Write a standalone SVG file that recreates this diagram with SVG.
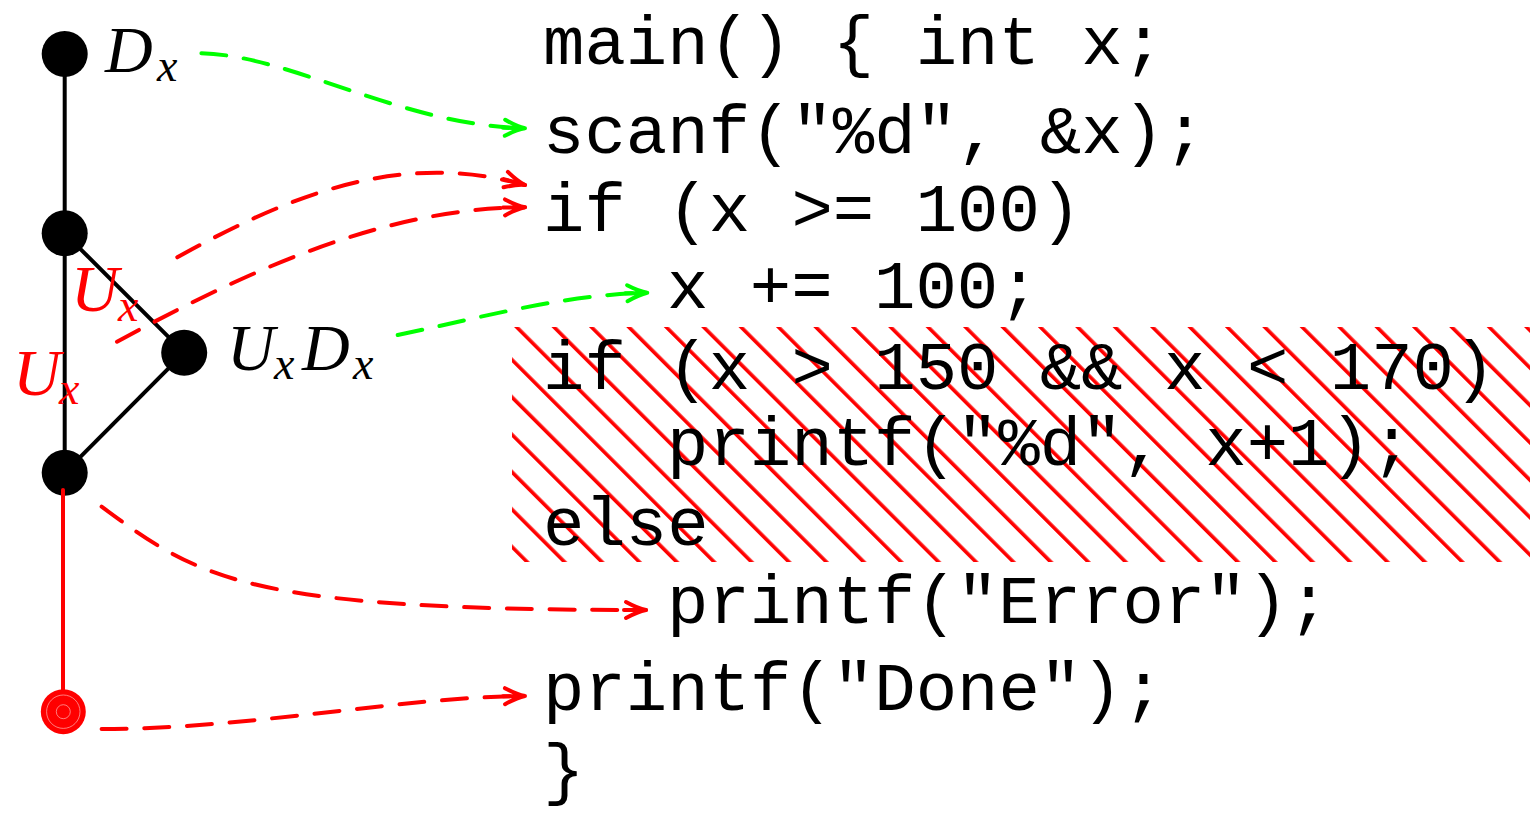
<svg xmlns="http://www.w3.org/2000/svg" width="1530" height="818" viewBox="0 0 1530 818">
<style>
.code{font-family:"Liberation Mono","DejaVu Sans Mono",monospace;font-size:69px;fill:#000}
.mi{font-family:"Liberation Serif","DejaVu Serif",serif;font-style:italic;font-size:66px}
.sub{font-family:"Liberation Serif","DejaVu Serif",serif;font-style:italic;font-size:46px}
.edge{stroke:#000;stroke-width:4;fill:none}
.dr{stroke:#ff0000;stroke-width:4;fill:none;stroke-dasharray:25 17.7;stroke-linecap:round}
.dg{stroke:#00ff00;stroke-width:4;fill:none;stroke-dasharray:25 17.7;stroke-linecap:round}
</style>
<defs>
<pattern id="hatch" patternUnits="userSpaceOnUse" width="26.45" height="26.45" patternTransform="rotate(-45)">
<rect x="0" y="0" width="3.6" height="26.45" fill="#ff0000"/>
</pattern>
<marker id="ar" markerUnits="userSpaceOnUse" markerWidth="30" markerHeight="24" viewBox="-24 -12 30 24" refX="0" refY="0" orient="auto" overflow="visible">
<path d="M -22 0 L 0 0 M -20 -8 Q -8 -1.5 0 0 Q -8 1.5 -20 8" stroke="#ff0000" stroke-width="4" fill="none" stroke-linecap="round"/>
</marker>
<marker id="ag" markerUnits="userSpaceOnUse" markerWidth="30" markerHeight="24" viewBox="-24 -12 30 24" refX="0" refY="0" orient="auto" overflow="visible">
<path d="M -22 0 L 0 0 M -20 -8 Q -8 -1.5 0 0 Q -8 1.5 -20 8" stroke="#00ff00" stroke-width="4" fill="none" stroke-linecap="round"/>
</marker>
</defs>
<rect width="1530" height="818" fill="#fff"/>
<rect id="hatched" x="512" y="327" width="1018" height="235" fill="url(#hatch)"/>
<g id="code">
<text class="code" x="543" y="64">main() { int x;</text>
<text class="code" x="543" y="153">scanf("%d", &amp;x);</text>
<text class="code" x="543" y="231">if (x &gt;= 100)</text>
<text class="code" x="667" y="308">x += 100;</text>
<text class="code" x="543" y="389">if (x &gt; 150 &amp;&amp; x &lt; 170)</text>
<text class="code" x="667" y="465">printf("%d", x+1);</text>
<text class="code" x="543" y="545">else</text>
<text class="code" x="667" y="623">printf("Error");</text>
<text class="code" x="543" y="710">printf("Done");</text>
<text class="code" x="543" y="792">}</text>
</g>
<g id="edges">
<line class="edge" x1="64.7" y1="54" x2="64.7" y2="472.7"/>
<line class="edge" x1="64.7" y1="233.3" x2="184.2" y2="352.7"/>
<line class="edge" x1="184.2" y1="352.7" x2="64.7" y2="472.7"/>
</g>
<g id="node-d"><circle cx="64.7" cy="54" r="23" fill="#000"/>
<text class="mi" x="105" y="72">D</text><text class="sub" x="157" y="81">x</text></g>
<g id="node-u"><circle cx="64.7" cy="233.3" r="23" fill="#000"/></g>
<g id="node-ud"><circle cx="184.2" cy="352.7" r="23" fill="#000"/>
<text class="mi" x="227" y="370">U</text><text class="sub" x="274" y="379">x</text>
<text class="mi" x="302" y="370">D</text><text class="sub" x="353" y="379">x</text></g>
<g id="node-m"><circle cx="64.7" cy="472.7" r="23" fill="#000"/></g>
<line x1="63" y1="490" x2="63" y2="700" stroke="#ff0000" stroke-width="4" stroke-linecap="round"/>
<g id="node-end"><circle cx="63.3" cy="711.7" r="22.5" fill="#ff0000"/>
<circle cx="63.3" cy="711.7" r="16.7" fill="none" stroke="#ffb0b0" stroke-width="0.7"/>
<circle cx="63.3" cy="711.7" r="7" fill="none" stroke="#ffb0b0" stroke-width="0.7"/></g>
<g id="labels">
<text class="mi" x="71" y="311" fill="#ff0000">U</text><text class="sub" x="118" y="321" fill="#ff0000">x</text>
<text class="mi" x="13" y="395" fill="#ff0000">U</text><text class="sub" x="59" y="404" fill="#ff0000">x</text>
</g>
<g id="connectors">
<path class="dg" d="M 201.4 53.3 C 290 55 400 125 525 128.3" marker-end="url(#ag)"/>
<path class="dr" d="M 177.3 257.3 C 290 195 400 150 525 185" marker-end="url(#ar)"/>
<path class="dr" d="M 117 341.7 C 240 275 380 208 525 207.3" marker-end="url(#ar)"/>
<path class="dg" d="M 397.7 335 C 480 318 560 295 647.3 292.7" marker-end="url(#ag)"/>
<path class="dr" d="M 101.6 506.7 C 201 580 246 610 646 610" marker-end="url(#ar)"/>
<path class="dr" d="M 101.6 729 C 250 729 400 697 525 696" marker-end="url(#ar)"/>
</g>
</svg>
